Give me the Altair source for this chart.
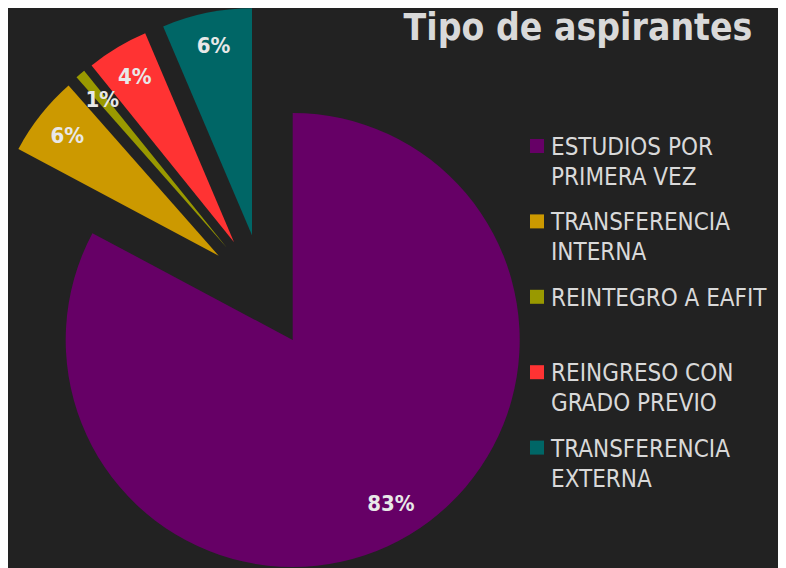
import altair as alt
import pandas as pd

# ---- data ----
title_text = "Tipo de aspirantes"
categories = [
    "ESTUDIOS POR PRIMERA VEZ",
    "TRANSFERENCIA INTERNA",
    "REINTEGRO A EAFIT",
    "REINGRESO CON GRADO PREVIO",
    "TRANSFERENCIA EXTERNA",
]
legend_labels = [
    "ESTUDIOS POR\nPRIMERA VEZ",
    "TRANSFERENCIA\nINTERNA",
    "REINTEGRO A EAFIT",
    "REINGRESO CON\nGRADO PREVIO",
    "TRANSFERENCIA\nEXTERNA",
]
shares = [82.8, 5.7, 0.7, 4.4, 6.4]
colors = ["#660066", "#cc9900", "#999900", "#ff3333", "#006666"]

df = pd.DataFrame({
    "cat": categories,
    "label": legend_labels,
    "share": shares,
    "idx": list(range(len(categories))),
})

# ---- layout / style constants ----
W, H = 770, 560
CX, CY = 284.7, 332.0
R = 227
EXPL = 57
LABEL_R = 193
BG = "#222222"
TXT = "#d9d9d9"
FONT = "DejaVu Sans Condensed, sans-serif"

color_scale = alt.Scale(domain=categories, range=colors)

base = (
    alt.Chart(df)
    .transform_joinaggregate(total="sum(share)")
    .transform_window(cum="sum(share)", sort=[alt.SortField("idx")], frame=[None, 0])
    .transform_calculate(
        t1="2*PI*datum.cum/datum.total",
        t0="2*PI*(datum.cum - datum.share)/datum.total",
    )
    .transform_calculate(
        mid="(datum.t0 + datum.t1)/2",
        first_end="datum.idx == 0 ? datum.t1 : 0",
    )
    .transform_joinaggregate(gstart="max(first_end)")
    .transform_calculate(gmid="(datum.gstart + 2*PI)/2")
    .transform_calculate(
        ex=f"datum.idx > 0 ? {EXPL}*(sin(datum.mid) + sin(datum.gmid)) : 0",
        ey=f"datum.idx > 0 ? -{EXPL}*(cos(datum.mid) + cos(datum.gmid)) : 0",
    )
    .transform_calculate(
        cx=f"{CX} + datum.ex",
        cy=f"{CY} + datum.ey",
    )
    .transform_calculate(
        lr=f"datum.idx == 0 ? 191 : {LABEL_R}",
    )
    .transform_calculate(
        lx="datum.cx + datum.lr*sin(datum.mid)",
        ly="datum.cy - datum.lr*cos(datum.mid)",
        pct="format(datum.share/datum.total, '.0%')",
        leg_y="147 + 75.4*datum.idx",
        sq_y="138 + 75.4*datum.idx",
    )
)

arcs = base.mark_arc(radius=R).encode(
    theta=alt.Theta("t0:Q", scale=None),
    theta2="t1:Q",
    x=alt.X("cx:Q", scale=None),
    y=alt.Y("cy:Q", scale=None),
    color=alt.Color("cat:N", scale=color_scale, legend=None),
)

pct_labels = base.mark_text(
    font=FONT, fontSize=22, fontWeight="bold", color="#e8e8e8",
    align="center", baseline="middle",
).encode(
    x=alt.X("lx:Q", scale=None),
    y=alt.Y("ly:Q", scale=None),
    text="pct:N",
)

legend_sq = base.mark_square(size=196, opacity=1).encode(
    x=alt.value(529),
    y=alt.Y("sq_y:Q", scale=None),
    color=alt.Color("cat:N", scale=color_scale, legend=None),
)

legend_txt = base.mark_text(
    font=FONT, fontSize=24, color=TXT, align="left", baseline="alphabetic",
    lineBreak="\n", lineHeight=30,
).encode(
    x=alt.value(543),
    y=alt.Y("leg_y:Q", scale=None),
    text="label:N",
)

title = alt.Chart(pd.DataFrame({"t": [title_text]})).mark_text(
    font=FONT, fontSize=37, fontWeight="bold", color=TXT,
    align="center", baseline="alphabetic",
).encode(
    x=alt.value(570),
    y=alt.value(32),
    text="t:N",
)

chart = (
    alt.layer(arcs, pct_labels, legend_sq, legend_txt, title)
    .properties(
        width=W, height=H, background=BG, padding=0,
        autosize=alt.AutoSizeParams(type="none"),
    )
    .configure_view(stroke=None)
)

chart.save("out.html", embed_options={"renderer": "svg", "actions": False})
